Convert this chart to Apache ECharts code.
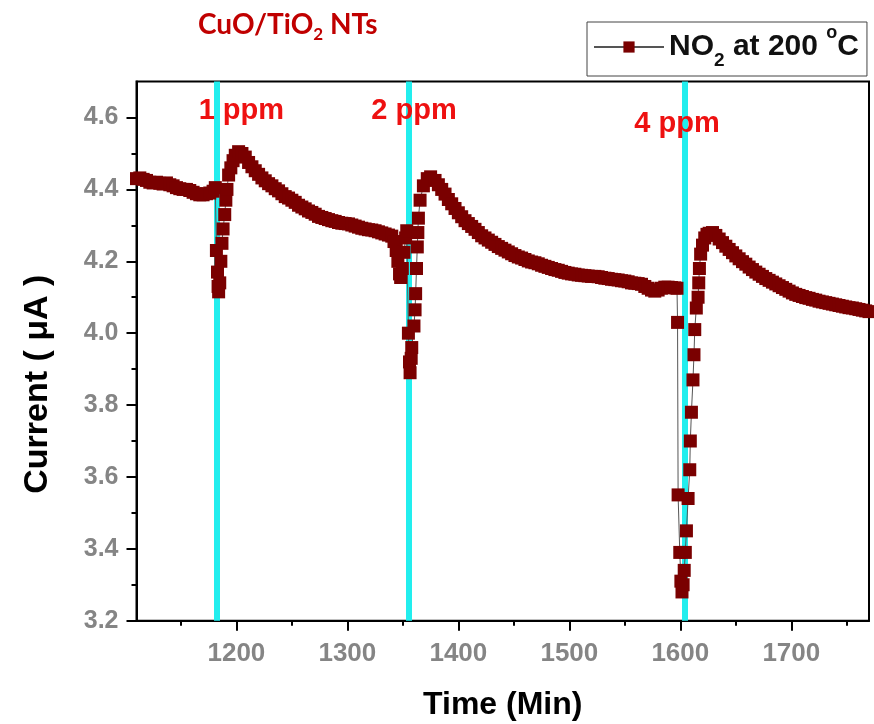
<!DOCTYPE html>
<html><head><meta charset="utf-8">
<script src="https://cdn.jsdelivr.net/npm/echarts@6/dist/echarts.min.js"></script>
<style>html,body{margin:0;padding:0;background:#fff}#c{width:874px;height:724px}</style>
</head><body><div id="c"></div>
<script>
// ---- data ----
const times = [
  1110,1113,1116,1119,1122,1125,1128,1131,1134,1137,1140,1143,1146,1149,1152,1155,1158,1161,1164,1167,1170,1173,1176,1179,1181,
  1182,1183,1183.5,1184,1185,1186,1187,1188,1189.5,1190.5,1191.5,1193,1195,1197,1199,1202,
  1205,1208,1211,1214,1217,1220,1223,1226,1229,1232,1235,1238,1241,1244,1247,1250,1253,1256,1259,1262,1265,1268,1271,1274,1277,1280,1283,1286,1289,1292,1295,1298,1301,1304,1307,1310,1313,1316,1319,1322,1325,1328,1331,1334,1337,1340,
  1342,1344,1345.5,1347,1348,1349.5,1351,1352.5,1353.5,
  1355,1356,1356.5,1357.5,1358,1360,1361,1361.5,1362.3,1363,1363.5,1364,1365.5,1368.5,1372,1375,
  1379,1382,1385,1388,1391,1394,1397,1400,1403,1406,1409,1412,1415,1418,1421,1424,1427,1430,1433,1436,1439,1442,1445,1448,1451,1454,1457,1460,1463,1466,1469,1472,1475,1478,1481,1484,1487,1490,1493,1496,1499,1502,1505,1508,1511,1514,1517,1520,1523,1526,1529,1532,1535,1538,1541,1544,1547,1550,1553,1556,1559,1562,1565,1568,1571,1574,1577,1580,1583,1586,1589,1592,1595,1597,
  1597.5,1598,1599.5,1600.5,1601.5,1602.5,1603.5,1604.5,1605.5,1607,1608.5,1609,1610,1611.4,1612.3,1613,1614.4,1616,1616.6,1617.2,1618.3,1620,1622,1624,1626,
  1629,1632,1635,1638,1641,1644,1647,1650,1653,1656,1659,1662,1665,1668,1671,1674,1677,1680,1683,1686,1689,1692,1695,1698,1701,1704,1707,1710,1713,1716,1719,1722,1725,1728,1731,1734,1737,1740,1743,1746,1749,1752,1755,1758,1761,1764,1767,1770
];
const currents = [
  4.43,4.432,4.428,4.425,4.42,4.418,4.42,4.417,4.415,4.418,4.413,4.41,4.405,4.402,4.40,4.40,4.397,4.392,4.388,4.385,4.385,4.388,4.39,4.395,4.405,
  4.23,4.17,4.13,4.115,4.14,4.20,4.25,4.29,4.33,4.37,4.40,4.44,4.46,4.48,4.495,4.505,
  4.50,4.49,4.475,4.463,4.452,4.442,4.432,4.424,4.416,4.41,4.402,4.396,4.388,4.38,4.376,4.37,4.364,4.356,4.351,4.346,4.34,4.336,4.331,4.325,4.322,4.319,4.316,4.313,4.311,4.308,4.306,4.305,4.304,4.301,4.298,4.295,4.292,4.29,4.288,4.287,4.285,4.282,4.279,4.276,4.273,4.27,
  4.255,4.23,4.20,4.165,4.155,4.18,4.225,4.265,4.285,
  4.00,3.92,3.89,3.93,3.96,4.02,4.065,4.11,4.18,4.24,4.28,4.32,4.37,4.41,4.43,4.435,
  4.425,4.413,4.40,4.387,4.372,4.36,4.347,4.335,4.324,4.313,4.305,4.297,4.289,4.28,4.271,4.265,4.259,4.253,4.247,4.241,4.236,4.231,4.226,4.221,4.216,4.212,4.209,4.205,4.201,4.198,4.196,4.193,4.189,4.186,4.183,4.18,4.177,4.175,4.172,4.169,4.167,4.165,4.164,4.162,4.161,4.16,4.159,4.158,4.158,4.157,4.155,4.153,4.152,4.15,4.149,4.148,4.146,4.145,4.143,4.14,4.139,4.138,4.136,4.13,4.125,4.12,4.117,4.12,4.125,4.128,4.128,4.127,4.126,4.125,
  4.03,3.55,3.39,3.31,3.28,3.30,3.34,3.39,3.45,3.54,3.62,3.70,3.78,3.87,3.94,4.01,4.07,4.10,4.14,4.18,4.22,4.245,4.265,4.275,4.278,
  4.28,4.272,4.262,4.252,4.242,4.233,4.224,4.215,4.207,4.199,4.192,4.184,4.177,4.17,4.164,4.158,4.152,4.147,4.142,4.137,4.132,4.127,4.122,4.117,4.112,4.108,4.105,4.102,4.099,4.097,4.094,4.092,4.089,4.087,4.085,4.083,4.081,4.079,4.077,4.075,4.073,4.071,4.07,4.068,4.066,4.064,4.062,4.06
];
const xMajorTicks = [1200,1300,1400,1500,1600,1700];
const xMinorTicks = [1150,1250,1350,1450,1550,1650,1750];
const yMajorTicks = [3.2,3.4,3.6,3.8,4.0,4.2,4.4,4.6];
const yMinorTicks = [3.3,3.5,3.7,3.9,4.1,4.3,4.5];
const exposureTimes = [1182.5,1355.5,1604];
const exposureLabels = ['1 ppm','2 ppm','4 ppm'];
const labelTimes = [1204.5,1360,1597];
const labelCurrents = [4.617,4.617,4.582];
// -----------------------------------------------

const AR = 'Liberation Sans, Arial, sans-serif';
const chart = echarts.init(document.getElementById('c'), null, {renderer:'canvas'});
const tickStyle = {color:'#000', width:2};
const option = {
  animation:false,
  backgroundColor:'#fff',
  title:{
    text:'{a|CuO/TiO}{s|2}{a| NTs}', left:198, top:7, padding:0,
    textStyle:{ rich:{
      a:{fontFamily:'Lato, sans-serif', fontSize:28, color:'#c00000', lineHeight:36, verticalAlign:'middle'},
      s:{fontFamily:'Lato, sans-serif', fontSize:17, color:'#c00000', lineHeight:17, verticalAlign:'bottom'}
    }}
  },
  legend:{
    data:['NO2'], left:587, top:22, padding:[2,8,6,6], borderColor:'#444', borderWidth:1,
    itemWidth:70, itemHeight:14, selectedMode:false,
    formatter:()=>'{a|NO}{s|2}{a| at 200 }{p|o}{a|C}',
    textStyle:{ rich:{
      a:{fontFamily:AR, fontWeight:'bold', fontSize:30, color:'#111', lineHeight:46, verticalAlign:'middle'},
      s:{fontFamily:AR, fontWeight:'bold', fontSize:19, color:'#111', lineHeight:19, verticalAlign:'bottom'},
      p:{fontFamily:AR, fontWeight:'bold', fontSize:18, color:'#111', lineHeight:18, verticalAlign:'top'}
    }}
  },
  grid:{left:136.5, top:81.6, width:732.5, height:539.1, show:true, borderColor:'#000', borderWidth:2, outerBoundsMode:'none'},
  xAxis:[
    {type:'value', min:1110, max:1770, position:'bottom',
     axisLine:{show:true, onZero:false, lineStyle:tickStyle},
     axisTick:{show:true, customValues:xMajorTicks, length:10, lineStyle:tickStyle},
     axisLabel:{show:true, customValues:xMajorTicks, margin:20, color:'#858585', fontSize:26, fontWeight:'bold', fontFamily:AR, formatter:v=>String(v)},
     splitLine:{show:false},
     name:'Time (Min)', nameLocation:'middle', nameGap:68,
     nameTextStyle:{fontFamily:AR, fontWeight:'bold', fontSize:32, color:'#000'}},
    {type:'value', min:1110, max:1770, position:'bottom', gridIndex:0,
     axisLine:{show:false}, axisLabel:{show:false}, splitLine:{show:false},
     axisTick:{show:true, customValues:xMinorTicks, length:5, lineStyle:tickStyle}}
  ],
  yAxis:[
    {type:'value', min:3.2, max:4.7, position:'left',
     axisLine:{show:true, onZero:false, lineStyle:tickStyle},
     axisTick:{show:true, customValues:yMajorTicks, length:10, lineStyle:tickStyle},
     axisLabel:{show:true, customValues:yMajorTicks, margin:18, color:'#858585', fontSize:25, fontWeight:'bold', fontFamily:AR, formatter:v=>Number(v).toFixed(1)},
     splitLine:{show:false},
     name:'Current ( μA )', nameLocation:'middle', nameGap:82,
     nameTextStyle:{fontFamily:AR, fontWeight:'bold', fontSize:34, color:'#000', padding:[0,66,0,0]}},
    {type:'value', min:3.2, max:4.7, position:'left', gridIndex:0,
     axisLine:{show:false}, axisLabel:{show:false}, splitLine:{show:false},
     axisTick:{show:true, customValues:yMinorTicks, length:5, lineStyle:tickStyle}}
  ],
  series:[
    {name:'NO2', type:'line', xAxisIndex:0, yAxisIndex:0, z:3,
     data: times.map((t,i)=>[t,currents[i]]),
     symbol:'rect', symbolSize:13, showSymbol:true, showAllSymbol:true,
     itemStyle:{color:'#7a0000'}, lineStyle:{color:'#555', width:1},
     markLine:{z:1, silent:true, symbol:'none', label:{show:false},
       lineStyle:{color:'#22eeee', width:6, type:'solid'},
       emphasis:{disabled:true},
       data: exposureTimes.map(t=>({xAxis:t}))},
     markPoint:{silent:true, symbol:'rect', symbolSize:1, itemStyle:{color:'rgba(0,0,0,0)'},
       label:{show:true, position:'inside', formatter:'{b}', color:'#ee1111', fontSize:29, fontWeight:'bold', fontFamily:AR},
       data: exposureLabels.map((n,i)=>({name:n, coord:[labelTimes[i], labelCurrents[i]]}))}
    }
  ]
};
chart.setOption(option);
</script></body></html>
